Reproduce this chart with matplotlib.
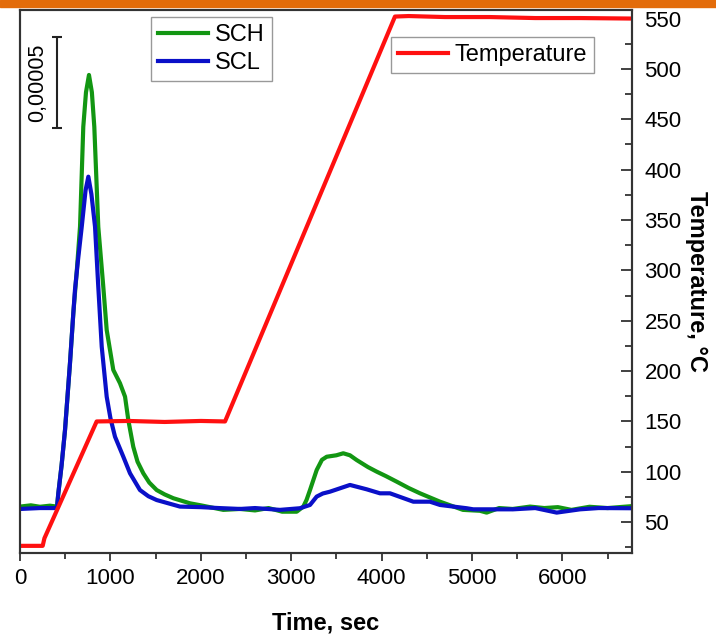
import matplotlib.pyplot as plt
from matplotlib.patches import Rectangle
from matplotlib.ticker import MultipleLocator

plt.rcParams['font.family'] = ['Liberation Sans', 'DejaVu Sans']

# signals, in units of 1e-5 (arbitrary offset)
sch_t = [0, 120, 221, 330, 409, 424, 460, 498, 553, 590, 630, 664, 700, 730, 763, 795,
         822, 866, 920, 959, 1032, 1106, 1162, 1198, 1253, 1300, 1364, 1430, 1512, 1600,
         1696, 1881, 2000, 2249, 2434, 2600, 2750, 2900, 3061, 3134, 3170, 3208, 3282,
         3340, 3393, 3500, 3576, 3650, 3724, 3850, 3946, 4050, 4167, 4300, 4425, 4646,
         4900, 5088, 5162, 5300, 5450, 5642, 5800, 5950, 6100, 6300, 6500, 6781]
sch_v = [0.13, 0.2, 0.12, 0.18, 0.13, 0.86, 2.4, 4.34, 8.02, 10.77, 13.2, 15.51, 21.0,
         22.9, 23.85, 22.9, 21.0, 15.5, 12.3, 9.84, 7.64, 6.91, 6.17, 4.89, 3.42, 2.6,
         1.96, 1.45, 1.04, 0.8, 0.59, 0.31, 0.2, -0.05, 0.0, -0.08, 0.05, -0.15, -0.15,
         0.13, 0.5, 1.04, 2.14, 2.7, 2.87, 2.95, 3.06, 2.95, 2.69, 2.3, 2.05, 1.8, 1.5,
         1.15, 0.86, 0.40, -0.05, -0.1, -0.2, 0.05, 0.0, 0.13, 0.05, 0.1, -0.05, 0.12,
         0.05, 0.16]

scl_t = [0, 221, 409, 424, 460, 498, 553, 590, 608, 640, 683, 725, 756, 790, 830, 865,
         904, 959, 1000, 1051, 1143, 1217, 1327, 1420, 1512, 1770, 2000, 2200, 2434,
         2600, 2876, 3097, 3208, 3282, 3350, 3429, 3650, 3835, 3982, 4093, 4351, 4535,
         4646, 4941, 5014, 5454, 5700, 5937, 6195, 6400, 6770]
scl_v = [0.0, 0.05, 0.05, 0.86, 2.4, 4.34, 8.02, 10.77, 12.03, 13.6, 15.51, 17.5, 18.26,
         17.3, 15.51, 12.3, 8.92, 6.17, 5.0, 3.97, 2.87, 1.96, 1.04, 0.7, 0.49, 0.13, 0.1,
         0.05, 0.0, 0.05, -0.05, 0.04, 0.22, 0.68, 0.85, 0.95, 1.32, 1.08, 0.86, 0.86,
         0.40, 0.40, 0.22, 0.04, -0.02, -0.02, 0.05, -0.2, -0.02, 0.05, 0.04]

temp_t = [0, 251, 270, 848, 1200, 1600, 2000, 2268, 4148, 4300, 4700, 5200, 5700,
          6200, 6770]
temp_v = [26.5, 26.5, 34, 150, 150.5, 149.5, 150.5, 150, 552, 552.5, 551.5, 551.5,
          550.5, 550.5, 550]

fig = plt.figure(figsize=(7.16, 6.37), dpi=100)
fig.patches.append(Rectangle((0, 1 - 7 / 637), 1, 7 / 637, transform=fig.transFigure,
                             color='#e36c0a', zorder=0))

ax = fig.add_axes([20 / 716, 84 / 637, 612 / 716, 543 / 637])
ax2 = ax.twinx()

l1, = ax.plot(sch_t, sch_v, color='#129612', lw=3, label='SCH')
l2, = ax.plot(scl_t, scl_v, color='#0a10c8', lw=3, label='SCL')
l3, = ax2.plot(temp_t, temp_v, color='#ff1010', lw=3, label='Temperature')

ax.set_xlim(0, 6770)
ax.set_ylim(-2.42, 27.42)
ax2.set_ylim(19.4, 558.5)

# scale bar
ax.errorbar(409, 23.43, yerr=2.5, color='#222222', lw=1.5, capsize=3.5, capthick=1.5)
ax.text(199, 23.43, '0,00005', rotation=90, ha='center', va='center', fontsize=15.5)

for a in (ax, ax2):
    for s in a.spines.values():
        s.set_color('#333333')
        s.set_linewidth(1.5)

ax.xaxis.set_major_locator(MultipleLocator(1000))
ax.xaxis.set_minor_locator(MultipleLocator(500))
ax.tick_params(axis='x', which='major', direction='out', length=6, width=1.3,
               labelsize=16, color='#333333', pad=5)
ax.tick_params(axis='x', which='minor', direction='out', length=4, width=1.3,
               color='#333333')
ax.tick_params(axis='y', left=False, labelleft=False)

ax2.yaxis.set_major_locator(MultipleLocator(50))
ax2.yaxis.set_minor_locator(MultipleLocator(25))
ax2.tick_params(axis='y', which='major', direction='in', length=8, width=1.3,
                labelsize=16, color='#333333', pad=9)
ax2.tick_params(axis='y', which='minor', direction='in', length=5, width=1.3,
                color='#333333')

ax.set_xlabel('Time, sec', fontsize=17, fontweight='bold', labelpad=16)
ax2.set_ylabel('Temperature, \u00b0C', fontsize=17, fontweight='bold', rotation=-90,
               labelpad=19)

leg_kw = dict(loc='upper left', fontsize=17, fancybox=False, framealpha=1,
              edgecolor='#999999', borderpad=0.3, labelspacing=0.25, handlelength=2.1,
              handletextpad=0.3, borderaxespad=0, bbox_transform=fig.transFigure)
ax.legend(handles=[l1, l2], bbox_to_anchor=(151 / 716, 1 - 17 / 637), **leg_kw)
ax2.legend(handles=[l3], bbox_to_anchor=(391 / 716, 1 - 37 / 637), **leg_kw)

fig.savefig('out.png', dpi=100)
